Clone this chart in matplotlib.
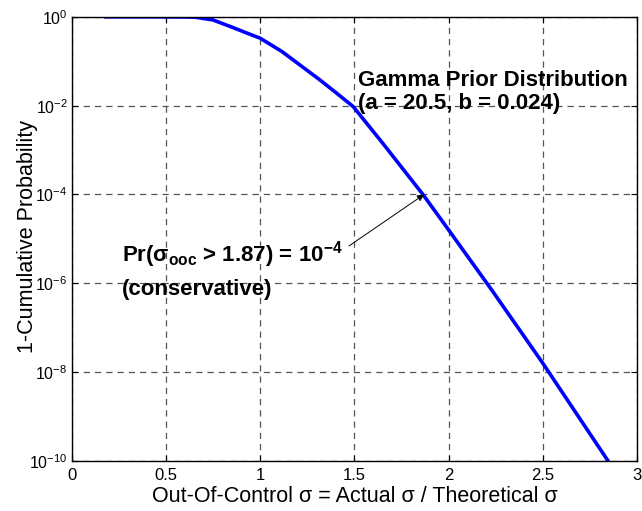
import numpy as np
import matplotlib
matplotlib.use("Agg")
import matplotlib.pyplot as plt

# 1 - CDF of the out-of-control sigma ratio under the gamma prior
sigma_ratio = [0.18, 0.45, 0.62, 0.66, 0.75, 0.855, 0.93, 1.0, 1.115, 1.21,
               1.31, 1.40, 1.494, 1.652, 1.864, 2.0, 2.23, 2.5, 2.847]
survival = [1.0, 1.0, 0.993, 0.977, 0.85, 0.575, 0.43, 0.33, 0.166, 0.083,
            0.040, 0.020, 0.0095, 0.0014, 1.0e-4, 1.6e-5, 7.0e-7,
            1.6e-8, 1.0e-10]

x_ticks = [0, 0.5, 1, 1.5, 2, 2.5, 3]
y_ticks = [1e-10, 1e-8, 1e-6, 1e-4, 1e-2, 1e0]

# highlighted design point
x_mark, p_mark = 1.87, 1e-4

plt.rcParams["font.family"] = ["Liberation Sans", "DejaVu Sans"]
plt.rcParams["mathtext.default"] = "regular"

fig = plt.figure(figsize=(6.42, 5.11), dpi=100)
ax = fig.add_axes([0.112, 0.098, 0.880, 0.869])

ax.semilogy(sigma_ratio, survival, color="#0000ff", lw=2.6)

ax.set_xlim(0, 3)
ax.set_ylim(1e-10, 1e0)
ax.set_xticks(x_ticks)
ax.set_xticklabels(["0", "0.5", "1", "1.5", "2", "2.5", "3"])
ax.set_yticks(y_ticks)
ax.yaxis.set_minor_locator(matplotlib.ticker.NullLocator())
ax.tick_params(direction="in", length=4, width=0.8, labelsize=12,
               top=True, right=True, pad=5)
ax.tick_params(axis="y", labelsize=11.5, pad=3)
for s in ax.spines.values():
    s.set_linewidth(1.0)

ax.grid(True, which="major", color="#555555", lw=0.9, linestyle=(0, (5, 4)))

ax.set_xlabel("Out-Of-Control σ = Actual σ / Theoretical σ", fontsize=15.5, labelpad=2)
ax.set_ylabel("1-Cumulative Probability", fontsize=15.5, va="center")
ax.yaxis.set_label_coords(-0.078, 0.505)

ax.text(1.519, 10 ** -1.55, "Gamma Prior Distribution", fontsize=16,
        fontweight="bold", ha="left", va="baseline")
ax.text(1.519, 10 ** -2.07, "(a = 20.5, b = 0.024)", fontsize=16,
        fontweight="bold", ha="left", va="baseline")

ax.text(0.265, 10 ** -5.51, r"Pr(σ$_{ooc}$ > 1.87) = 10$^{-4}$", fontsize=16,
        fontweight="bold", ha="left", va="baseline")
ax.text(0.265, 10 ** -6.26, "(conservative)", fontsize=16,
        fontweight="bold", ha="left", va="baseline")

ax.annotate("", xy=(x_mark, p_mark), xytext=(1.471, 10 ** -5.16),
            arrowprops=dict(arrowstyle="-|>", color="k", lw=0.7,
                            mutation_scale=10, shrinkA=0, shrinkB=0))

fig.savefig("out.png", dpi=100)
